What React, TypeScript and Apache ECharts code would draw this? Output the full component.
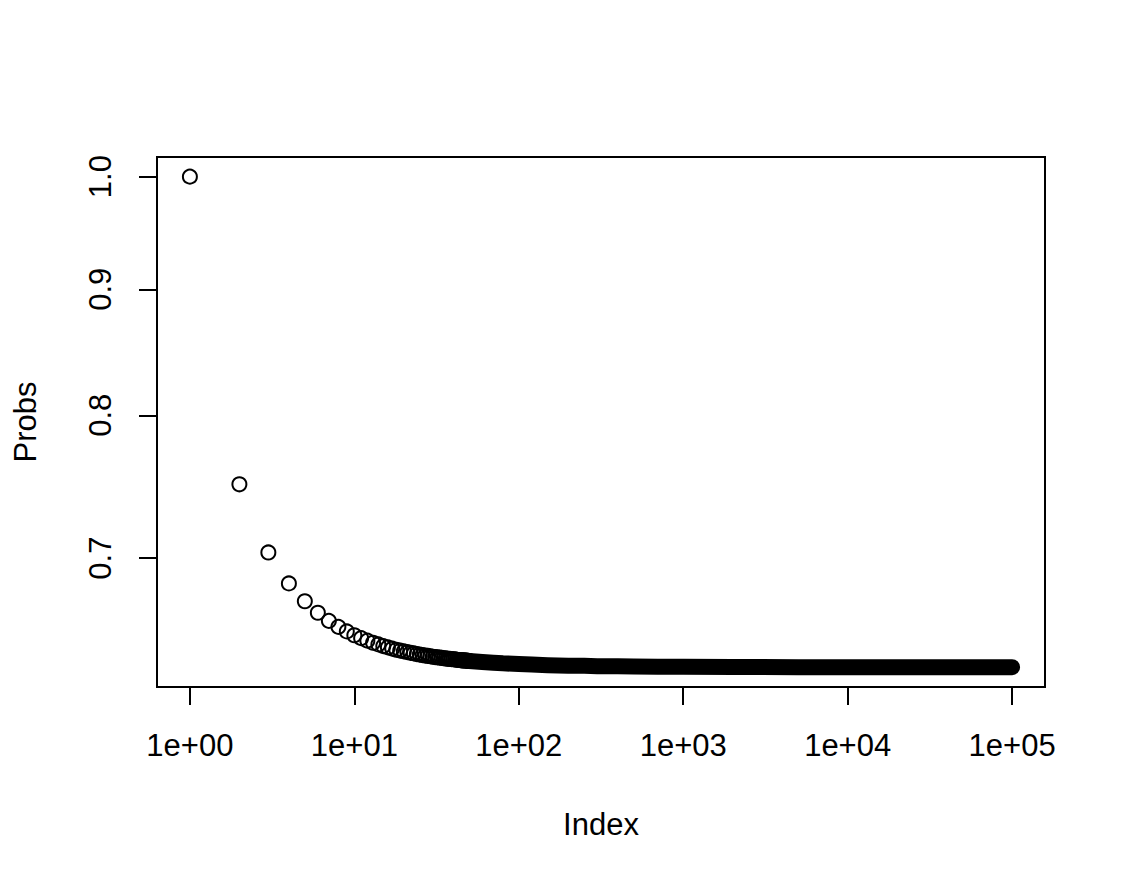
import React, { useEffect, useRef } from "react";
import * as echarts from "echarts";

// Individual points (index, probability)
const pointIndex = [
  1, 2, 3, 4, 5, 6, 7, 8, 9, 10,
  11, 12, 13, 14, 15, 16, 17, 18, 19, 20,
  21, 22, 23, 24, 25, 26, 27, 28, 29, 30,
  31, 32, 33, 34, 35, 36, 37, 38, 39, 40,
  41, 42, 43, 44, 45, 46, 47, 48, 49, 50,
];
const pointProbs = [
  1.0, 0.75, 0.7037, 0.6836, 0.6723, 0.6651, 0.6601, 0.6564, 0.6536, 0.6513,
  0.6495, 0.648, 0.6467, 0.6457, 0.6447, 0.6439, 0.6432, 0.6425, 0.642, 0.6415,
  0.6411, 0.6406, 0.6403, 0.6399, 0.6396, 0.6393, 0.639, 0.6388, 0.6386, 0.6383,
  0.6381, 0.6379, 0.6378, 0.6376, 0.6374, 0.6373, 0.6371, 0.637, 0.6369, 0.6368,
  0.6367, 0.6365, 0.6364, 0.6363, 0.6362, 0.6362, 0.6361, 0.636, 0.6359, 0.6358,
];

// Dense tail of overlapping points (drawn as a solid band)
const tailIndex = [45, 50, 60, 70, 80, 100, 120, 150, 200, 250, 300, 400, 500, 700, 1000, 2000, 5000, 10000, 100000];
const tailProbs = [0.6362, 0.6358, 0.6352, 0.6348, 0.6344, 0.634, 0.6337, 0.6333, 0.633, 0.6329, 0.6327, 0.6326, 0.6325, 0.6324, 0.6323, 0.6322, 0.6321, 0.6321, 0.6321];

const xTicks = [1, 10, 100, 1000, 10000, 100000];
const yTicks = [0.7, 0.8, 0.9, 1.0];

export default function App() {
  const ref = useRef<HTMLDivElement>(null);

  useEffect(() => {
    const chart = echarts.init(ref.current!, null, { renderer: "svg" });
    const font = "'Liberation Sans', Arial, Helvetica, sans-serif";
    const fs = 31;

    chart.setOption({
      animation: false,
      backgroundColor: "#ffffff",
      grid: {
        left: 157,
        right: 81,
        top: 157,
        bottom: 197,
        show: true,
        borderColor: "#000",
        borderWidth: 2,
        backgroundColor: "transparent",
      },
      xAxis: {
        type: "log",
        logBase: 10,
        min: Math.pow(10, -0.2),
        max: Math.pow(10, 5.2),
        name: "Index",
        nameLocation: "middle",
        nameGap: 122,
        nameTextStyle: { color: "#000", fontSize: fs, fontFamily: font },
        axisLine: { show: false },
        splitLine: { show: false },
        minorTick: { show: false },
        axisTick: {
          show: true,
          length: 18,
          lineStyle: { color: "#000", width: 2 },
          customValues: xTicks,
        },
        axisLabel: {
          customValues: xTicks,
          margin: 43,
          color: "#000",
          fontSize: fs,
          fontFamily: font,
          formatter: (v: number) => {
            const k = Math.round(Math.log10(v));
            return "1e+" + String(k).padStart(2, "0");
          },
        },
      },
      yAxis: {
        type: "log",
        logBase: 10,
        min: Math.pow(10, -0.20725),
        max: Math.pow(10, 0.00797),
        name: "Probs",
        nameLocation: "middle",
        nameGap: 116,
        nameRotate: 90,
        nameTextStyle: { color: "#000", fontSize: fs, fontFamily: font },
        axisLine: { show: false },
        splitLine: { show: false },
        minorTick: { show: false },
        axisTick: {
          show: true,
          length: 18,
          lineStyle: { color: "#000", width: 2 },
          customValues: yTicks,
        },
        axisLabel: {
          customValues: yTicks,
          rotate: 90,
          margin: 41,
          color: "#000",
          fontSize: fs,
          fontFamily: font,
          formatter: (v: number) => v.toFixed(1),
        },
      },
      series: [
        {
          type: "line",
          data: tailIndex.map((x, i) => [x, tailProbs[i]]),
          showSymbol: false,
          symbol: "none",
          lineStyle: { color: "#000", width: 16, cap: "round", join: "round", opacity: 1 },
          silent: true,
          z: 1,
        },
        {
          type: "scatter",
          data: pointIndex.map((x, i) => [x, pointProbs[i]]),
          symbol: "circle",
          symbolSize: 14,
          itemStyle: { color: "rgba(0,0,0,0)", borderColor: "#000", borderWidth: 2, opacity: 1 },
          silent: true,
          z: 2,
        },
      ],
    });

    return () => chart.dispose();
  }, []);

  return (
    <div
      ref={ref}
      style={{ position: "fixed", left: 0, top: 0, width: 1126, height: 884, background: "#fff" }}
    />
  );
}
